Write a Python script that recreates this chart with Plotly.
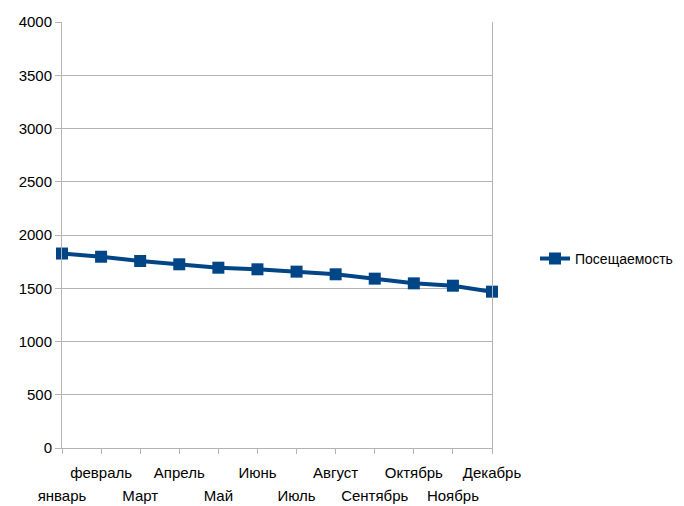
import plotly.graph_objects as go

months = ["январь", "февраль", "Март", "Апрель", "Май", "Июнь",
          "Июль", "Август", "Сентябрь", "Октябрь", "Ноябрь", "Декабрь"]
visits = [1826, 1796, 1756, 1725, 1693, 1678, 1656, 1631, 1590, 1546, 1524, 1468]
y_ticks = [0, 500, 1000, 1500, 2000, 2500, 3000, 3500, 4000]

idx = list(range(len(months)))
lower_vals = [i for i in idx if i % 2 == 0]
lower_text = [months[i] for i in lower_vals]

FONT = "Liberation Sans, Arial, sans-serif"
FS = 15

fig = go.Figure()
fig.add_trace(go.Scatter(
    x=idx, y=visits, mode="lines+markers", name="Посещаемость",
    line=dict(color="#004586", width=4),
    marker=dict(symbol="square", size=12, color="#004586"),
    cliponaxis=False,
))
# invisible helper trace so the second (lower-row label) axis is drawn
fig.add_trace(go.Scatter(
    x=idx, y=visits, xaxis="x2", yaxis="y", mode="lines",
    line=dict(width=0, color="rgba(0,0,0,0)"), opacity=0,
    showlegend=False, hoverinfo="skip",
))

fig.update_layout(
    width=676, height=498,
    margin=dict(l=54, r=192, t=14, b=58, autoexpand=False),
    paper_bgcolor="white", plot_bgcolor="white",
    font=dict(family=FONT, size=FS, color="#000000"),
    showlegend=True,
    legend=dict(x=1.10, y=0.444, xanchor="left", yanchor="middle",
                font=dict(family=FONT, size=14), itemwidth=30,
                borderwidth=0, bgcolor="rgba(0,0,0,0)"),
    xaxis=dict(
        range=[0, 11], tickmode="array", tickvals=idx,
        ticktext=[months[i] if i % 2 == 1 else "" for i in idx],
        showgrid=False, zeroline=False, automargin=False,
        showline=True, linecolor="#b3b3b3", linewidth=1,
        ticks="outside", ticklen=5, tickcolor="#b3b3b3",
        tickangle=0, ticklabelstandoff=6,
        tickfont=dict(family=FONT, size=FS),
    ),
    xaxis2=dict(
        range=[0, 11], overlaying="x", anchor="y", side="bottom",
        tickmode="array", tickvals=lower_vals, ticktext=lower_text,
        showgrid=False, zeroline=False, automargin=False, showline=False,
        ticks="", tickangle=0, ticklabelstandoff=37,
        tickfont=dict(family=FONT, size=FS),
    ),
    yaxis=dict(
        range=[0, 4000], tickmode="array", tickvals=y_ticks,
        showgrid=True, gridcolor="#b3b3b3", gridwidth=1, zeroline=False,
        showline=True, linecolor="#b3b3b3", linewidth=1, mirror=True,
        ticks="outside", ticklen=6, tickcolor="#b3b3b3", automargin=False,
        tickfont=dict(family=FONT, size=FS),
    ),
)

fig.write_html("out.html")
